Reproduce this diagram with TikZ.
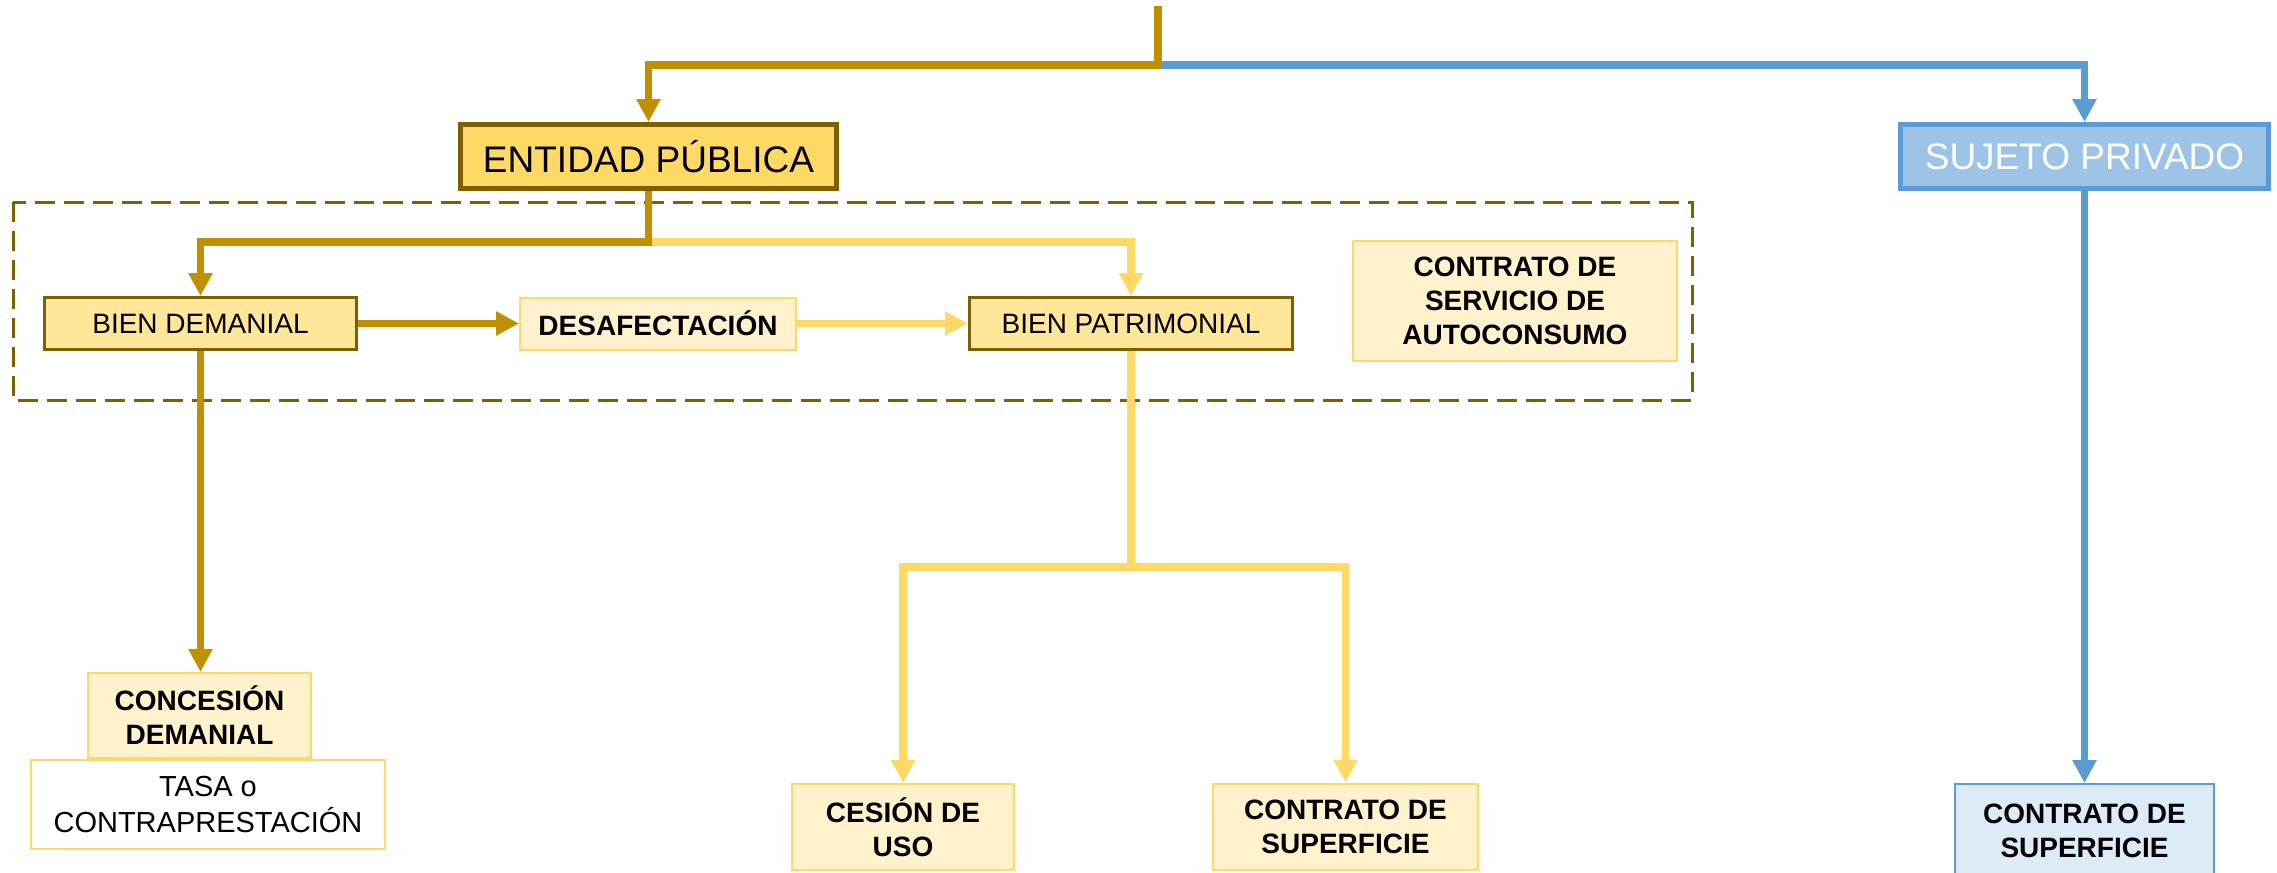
\documentclass[tikz,border=0pt]{standalone}
\usepackage{fontspec}
\setmainfont{Liberation Sans}
\usetikzlibrary{arrows.meta}
\definecolor{goldline}{HTML}{BF9000}
\definecolor{darkgold}{HTML}{7F6000}
\definecolor{goldA}{HTML}{FFD966}
\definecolor{goldB}{HTML}{FFE699}
\definecolor{goldC}{HTML}{FFF2CC}
\definecolor{blueline}{HTML}{5B9BD5}
\definecolor{blueA}{HTML}{9DC3E6}
\definecolor{blueB}{HTML}{DDEBF7}
\begin{document}
\begin{tikzpicture}[x=0.5pt,y=-0.5pt,
  box/.style={rectangle, inner sep=0pt, align=center, text=black},
  bigbox/.style={box, line width=2.5pt, font=\fontsize{18.5}{22}\selectfont, minimum height=32pt},
  midbox/.style={box, draw=darkgold, fill=goldB, line width=1.5pt, font=\fontsize{14}{17}\selectfont, minimum height=26pt},
  lightbox/.style={box, draw=goldA, fill=goldC, line width=1pt, font=\bfseries\fontsize{14}{17}\selectfont},
  con/.style={line width=3.8pt, line join=miter},
  arr/.style={con, -{Triangle[length=11.5pt,width=11.5pt]}},
  goldc/.style={draw=goldline, goldline},
  yelc/.style={draw=goldA, goldA},
  bluec/.style={draw=blueline, blueline},
  grp/.style={draw=darkgold, line width=1.5pt, dash pattern=on 10pt off 4.5pt}
]
\useasboundingbox (0,0) rectangle (2277,873);
\clip (0,0) rectangle (2277,873);

% group frame
\draw[grp] (13,202) rectangle (1692,400);

% nodes
\node[bigbox, draw=darkgold, fill=goldA, minimum width=188pt] (ent) at (648.5,156.5) {ENTIDAD PÚBLICA};
\node[bigbox, draw=blueline, fill=blueA, text=white, minimum width=184pt] (suj) at (2084.5,156.5) {SUJETO PRIVADO};

\node[midbox, minimum width=156pt] (bd) at (200.5,323.5) {BIEN DEMANIAL};
\node[lightbox, minimum width=138pt, minimum height=26pt] (des) at (658,323.5) {DESAFECTACIÓN};
\node[midbox, minimum width=161.5pt] (bp) at (1131,323.5) {BIEN PATRIMONIAL};
\node[lightbox, minimum width=162pt, minimum height=60pt] (cs) at (1515,301) {CONTRATO DE\\SERVICIO DE\\AUTOCONSUMO};

\node[lightbox, minimum width=111.5pt, minimum height=42.5pt] (con) at (199.5,715.5) {CONCESIÓN\\DEMANIAL};
\node[lightbox, fill=white, font=\fontsize{14.5}{18}\selectfont, minimum width=177pt, minimum height=44.5pt] (tasa) at (208,804.5) {TASA o\\CONTRAPRESTACIÓN};

\node[lightbox, minimum width=111pt, minimum height=43pt] (ces) at (903,827) {CESIÓN DE\\USO};
\node[lightbox, minimum width=132.5pt, minimum height=43pt] (sup) at (1345.5,826.5) {CONTRATO DE\\SUPERFICIE};
\node[lightbox, draw=blueline, fill=blueB, minimum width=129.5pt, minimum height=46.5pt] (bsup) at (2084.5,830.5) {CONTRATO DE\\SUPERFICIE};

% junction coordinates
\coordinate (top) at (1158,6);
\coordinate (j1) at (1158,65);
\coordinate (j2) at (648.5,242);
\coordinate (j3) at (1131,567);

% top split
\draw[arr, bluec] (j1) -| (suj.north);
\draw[arr, goldc] (top) -- (j1) -| (ent.north);

% entidad split
\draw[arr, yelc] (j2) -| (bp.north);
\draw[arr, goldc] (ent.south) -- (j2) -| (bd.north);

% horizontal flow
\draw[arr, goldc] (bd.east) -- (des.west);
\draw[arr, yelc] (des.east) -- (bp.west);

% downward
\draw[arr, goldc] (bd.south) -- (bd.south |- con.north);
\draw[arr, yelc] (bp.south) -- (j3) -| (ces.north);
\draw[arr, yelc] (j3) -| (sup.north);
\draw[arr, bluec] (suj.south) -- (bsup.north);
\end{tikzpicture}
\end{document}
